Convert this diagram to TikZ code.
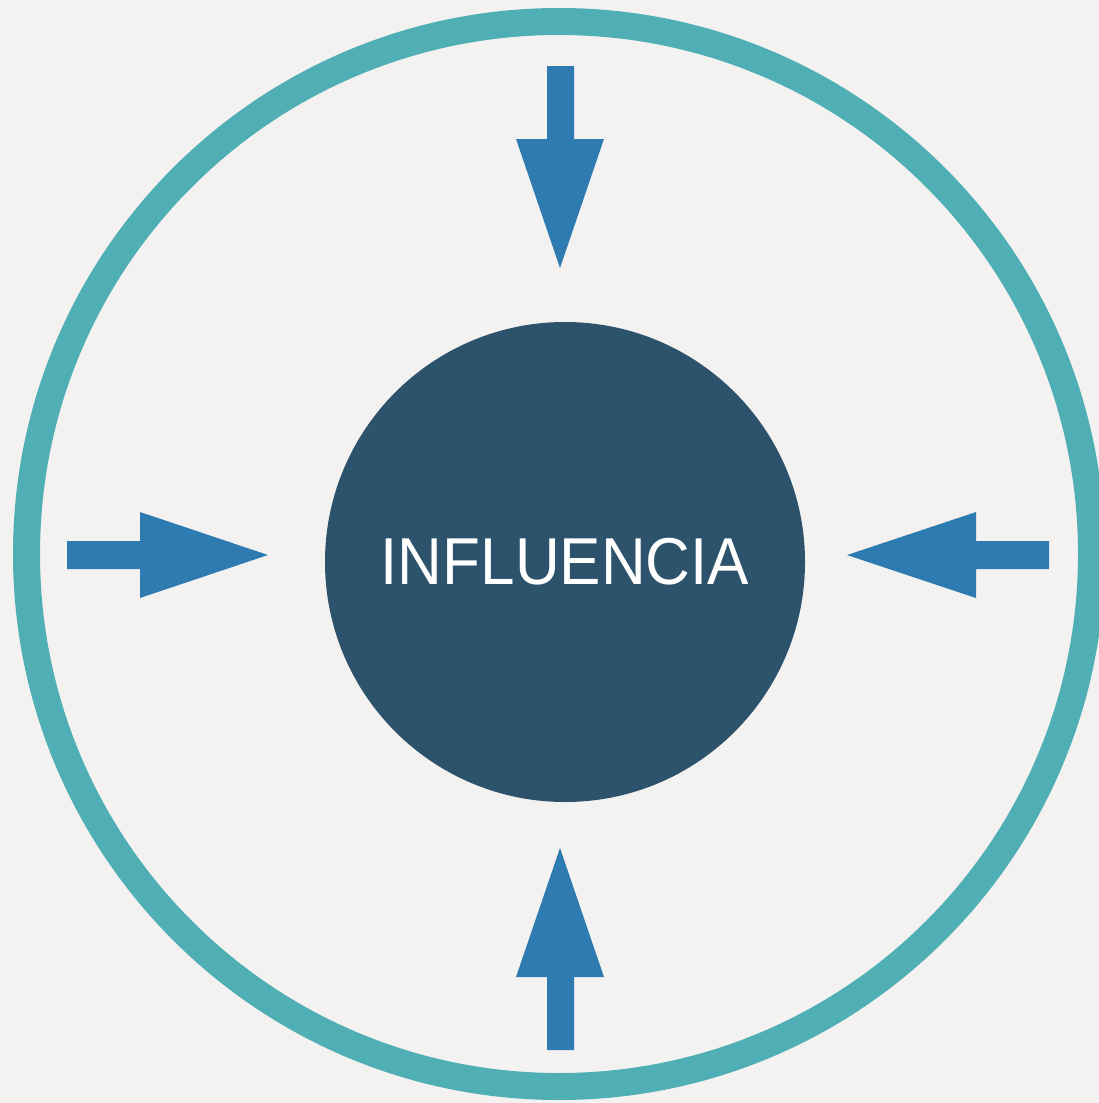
\documentclass[tikz,border=0pt]{standalone}
\usepackage{fontspec}
\setmainfont{Liberation Sans}
\definecolor{bgc}{HTML}{F4F2F1}
\definecolor{ringc}{HTML}{4FAFB4}
\definecolor{corec}{HTML}{2D526B}
\definecolor{arrowc}{HTML}{2E7BB1}
\tikzset{
  ring/.style={draw=ringc, line width=27pt},
  core/.style={circle, fill=corec, minimum size=480pt, inner sep=0pt, text=white, font=\fontsize{62}{62}\selectfont},
  arrowshape/.style={fill=arrowc, draw=none}
}
\begin{document}
\begin{tikzpicture}[x=1pt, y=-1pt]
\useasboundingbox (0,0) rectangle (1099,1103);
\clip (0,0) rectangle (1099,1103);
\fill[bgc] (0,0) rectangle (1099,1103);
\coordinate (oc) at (559,554);
\draw[ring] (oc) circle[radius=532.5];
\node[core] (core) at (565,562) {\scalebox{1}[1.07]{INFLUENCIA}};
% top arrow
\fill[arrowshape] (547,66) -- (574,66) -- (574,139) -- (604,139) -- (560,268) -- (516,139) -- (547,139) -- cycle;
% bottom arrow
\fill[arrowshape] (547,1050) -- (574,1050) -- (574,977) -- (604,977) -- (560,848) -- (516,977) -- (547,977) -- cycle;
% left arrow
\fill[arrowshape] (67,541) -- (67,569) -- (140,569) -- (140,598) -- (268,555) -- (140,512) -- (140,541) -- cycle;
% right arrow
\fill[arrowshape] (1049,541) -- (1049,569) -- (976,569) -- (976,598) -- (847,555) -- (976,512) -- (976,541) -- cycle;
\end{tikzpicture}
\end{document}
